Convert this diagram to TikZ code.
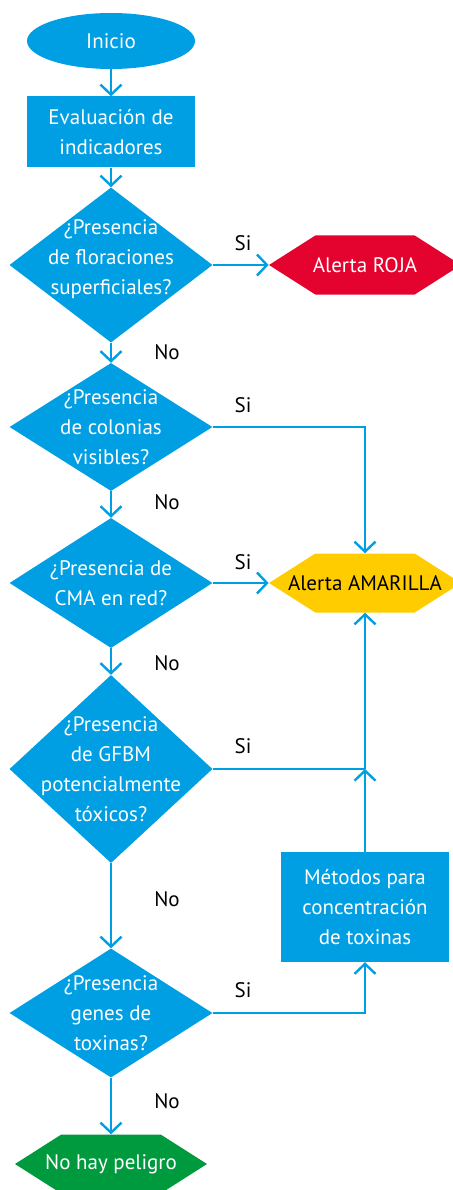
\documentclass[tikz,border=0pt]{standalone}
\usepackage{fontspec}
\setmainfont{PT Sans}
\usetikzlibrary{shapes.geometric, shapes.symbols, arrows.meta, positioning, calc}
\definecolor{flujoazul}{HTML}{009FE3}
\definecolor{alertaroja}{HTML}{E4032E}
\definecolor{alertaamarilla}{HTML}{FFCC00}
\definecolor{sinpeligro}{HTML}{009A3E}

\tikzset{
  txt/.style={font=\fontsize{21}{30}\selectfont, align=center},
  inicio/.style={ellipse, fill=flujoazul, text=white, minimum width=168pt, minimum height=56pt, inner sep=0pt, txt},
  proceso/.style={rectangle, fill=flujoazul, text=white, minimum width=168pt, minimum height=#1, inner sep=0pt, txt},
  decision/.style={diamond, fill=flujoazul, minimum width=203pt, minimum height=#1, inner sep=0pt},
  alerta/.style={signal, signal to=west and east, signal pointer angle=65, fill=#1, minimum width=192pt, minimum height=59pt, inner sep=0pt},
  flecha/.style={draw=flujoazul, line width=2.4pt, -{Straight Barb[length=10pt, width=21pt, line width=2.4pt]}},
  linea/.style={draw=flujoazul, line width=2.4pt},
  resp/.style={font=\fontsize{21}{24}\selectfont}
}

\begin{document}
\begin{tikzpicture}[x=1pt, y=-1pt]
  \useasboundingbox (0,0) rectangle (452,1190);
  % Columns
  \def\colA{111}
  \def\colB{365}

  % Main column
  \node[inicio] (ini) at (\colA, 41) {Inicio};
  \node[proceso=71pt] (eval) at (\colA, 132) {Evaluación de\\indicadores};
  \node[decision=155pt, label={[txt, text=white, yshift=6pt]center:¿Presencia\\de floraciones\\superficiales?}] (d1) at (\colA, 265) {};
  \node[decision=128pt, label={[txt, text=white]center:¿Presencia\\de colonias\\visibles?}] (d2) at (\colA, 427) {};
  \node[decision=130pt, label={[txt, text=white]center:¿Presencia de\\CMA en red?}] (d3) at (\colA, 583) {};
  \node[decision=188pt, label={[txt, text=white]center:¿Presencia\\de GFBM\\potencialmente\\tóxicos?}] (d4) at (\colA, 769) {};
  \node[decision=129pt, label={[txt, text=white]center:¿Presencia\\genes de\\toxinas?}] (d5) at (\colA, 1013) {};
  \node[alerta=sinpeligro, label={[txt, text=white]center:No hay peligro}] (nohay) at (\colA, 1164) {};

  % Right column
  \node[alerta=alertaroja, label={[txt, text=white]center:Alerta ROJA}] (roja) at (\colB, 265) {};
  \node[alerta=alertaamarilla, label={[txt, text=black]center:Alerta AMARILLA}] (amarilla) at (\colB, 583) {};
  \node[proceso=110pt] (metodos) at (\colB, 907) {Métodos para\\concentración\\de toxinas};
  \coordinate (union) at (\colB, 769);

  % Connectors
  \draw[flecha] (ini) -- (eval);
  \draw[flecha] (eval) -- (d1);
  \draw[flecha] (d1.east) -- (roja.west);
  \draw[flecha] (d1.south) -- (d2.north);
  \draw[flecha] (d2.east) -| (amarilla.north);
  \draw[flecha] (d2.south) -- (d3.north);
  \draw[flecha] (d3.east) -- (amarilla.west);
  \draw[flecha] (d3.south) -- (d4.north);
  \draw[linea] (d4.east) -- (union);
  \draw[flecha] (metodos.north) -- (union);
  \draw[flecha] (union) -- (amarilla.south);
  \draw[flecha] (d4.south) -- (d5.north);
  \draw[flecha] (d5.east) -| (metodos.south);
  \draw[flecha] (d5.south) -- (nohay.north);

  % Si / No
  \node[resp] (si1) at (243, 243) {Si};
  \node[resp] (si2) at (243, 405) {Si};
  \node[resp] (si3) at (243, 562) {Si};
  \node[resp] (si4) at (243, 746) {Si};
  \node[resp] (si5) at (243, 990) {Si};
  \node[resp] (no1) at (167, 352) {No};
  \node[resp] (no2) at (167, 502) {No};
  \node[resp] (no3) at (167, 663) {No};
  \node[resp] (no4) at (167, 899) {No};
  \node[resp] (no5) at (167, 1101) {No};
\end{tikzpicture}
\end{document}
